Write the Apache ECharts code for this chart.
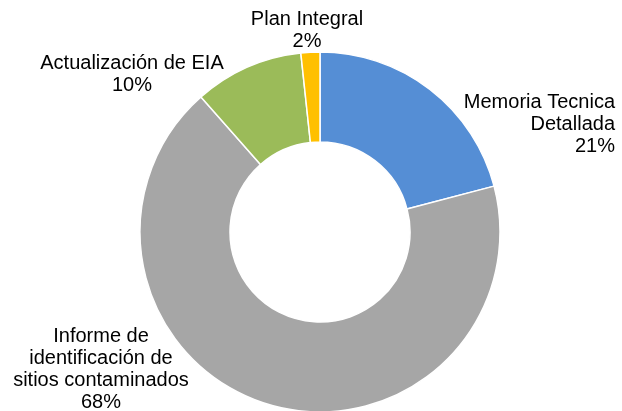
<!DOCTYPE html>
<html lang="es">
<head>
    <meta charset="UTF-8">
    <title>Donut</title>
    <script src="https://cdn.jsdelivr.net/npm/echarts@6/dist/echarts.min.js"></script>
    <style>
        html, body { margin: 0; padding: 0; background: #fff; }
        #main { width: 622px; height: 411px; }
    </style>
</head>
<body>
<div id="main"></div>
<script>
    // categories and shares
    var names = ['Memoria Tecnica\nDetallada', 'Informe de\nidentificación de\nsitios contaminados', 'Actualización de EIA', 'Plan Integral'];
    var values = [20.9, 67.6, 9.8, 1.7];
    var colors = ['#558ed5', '#a6a6a6', '#9bbb59', '#ffc000'];

    // where each label sits (the original labels were placed by hand)
    var labelSpots = [
        {x: 615, y: 124, align: 'right'},
        {x: 101, y: 369, align: 'center'},
        {x: 132, y: 74, align: 'center'},
        {x: 307, y: 30, align: 'center'}
    ];

    var data = [];
    for (var i = 0; i < names.length; i++) {
        data.push({
            name: names[i],
            value: values[i],
            itemStyle: {color: colors[i]},
            label: {align: labelSpots[i].align}
        });
    }

    var myChart = echarts.init(document.getElementById('main'));
    var option = {
        animation: false,
        backgroundColor: '#fff',
        series: [{
            type: 'pie',
            center: [320, 232],
            radius: [90, 180],
            startAngle: 90,
            clockwise: true,
            avoidLabelOverlap: false,
            data: data,
            itemStyle: {
                borderColor: '#fff',
                borderWidth: 1.5
            },
            label: {
                show: true,
                position: 'outside',
                color: '#000',
                fontFamily: 'Liberation Sans, Arial, sans-serif',
                fontSize: 20,
                lineHeight: 22,
                formatter: function (p) {
                    return p.name + '\n' + Math.round(p.percent) + '%';
                }
            },
            labelLine: {show: false},
            labelLayout: function (params) {
                var s = labelSpots[params.dataIndex];
                return {
                    x: s.x,
                    y: s.y,
                    align: s.align,
                    verticalAlign: 'middle'
                };
            }
        }]
    };
    myChart.setOption(option);
</script>
</body>
</html>
